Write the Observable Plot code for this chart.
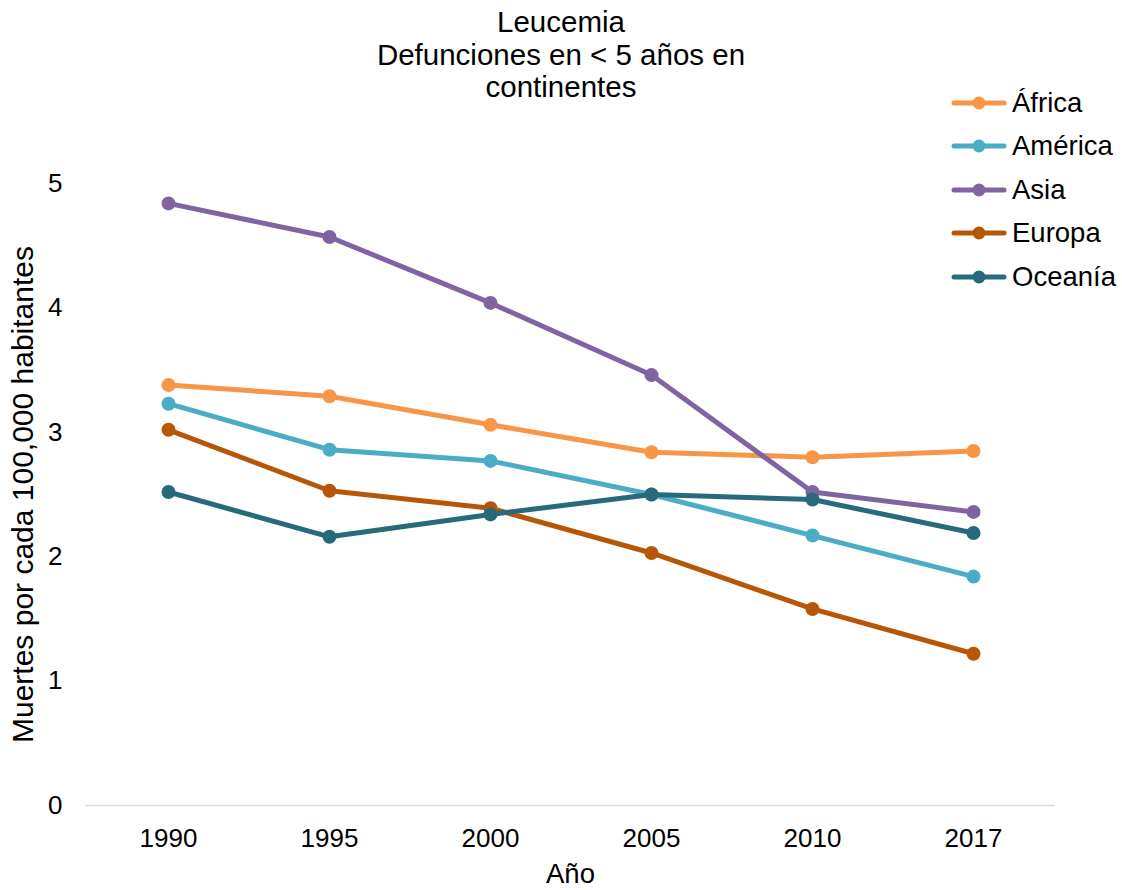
<!DOCTYPE html>
<html>
<head>
<meta charset="utf-8">
<script src="https://cdn.jsdelivr.net/npm/d3@7"></script>
<script src="https://cdn.jsdelivr.net/npm/@observablehq/plot@0.6"></script>
<style>
  body { margin: 0; background: #fff; font-family: "Liberation Sans", Arial, sans-serif; color: #000; }
  #wrap { position: relative; width: 1122px; height: 890px; }
  #title { position: absolute; left: 0; top: 6px; width: 1122px; text-align: center; font-size: 29.5px; line-height: 32.5px; }
  #legend { position: absolute; left: 951px; top: 81px; }
  .item { display: flex; align-items: center; height: 43.5px; font-size: 27.5px; }
  .item svg { margin-right: 5px; }
</style>
</head>
<body>
<div id="wrap">
  <div id="chart"></div>
  <div id="title">Leucemia<br>Defunciones en &lt; 5 años en<br>continentes</div>
  <div id="legend"></div>
</div>
<script>
// Years on the x axis
const years = ["1990", "1995", "2000", "2005", "2010", "2017"];
// Series (continents) and their colours
const continents = ["África", "América", "Asia", "Europa", "Oceanía"];
const colors = ["#F79646", "#4BACC6", "#8064A2", "#B65708", "#276A7C"];
// Deaths per 100,000 inhabitants, children under 5
const africa  = [3.38, 3.29, 3.06, 2.84, 2.80, 2.85];
const america = [3.23, 2.86, 2.77, 2.50, 2.17, 1.84];
const asia    = [4.84, 4.57, 4.04, 3.46, 2.52, 2.36];
const europa  = [3.02, 2.53, 2.39, 2.03, 1.58, 1.22];
const oceania = [2.52, 2.16, 2.34, 2.50, 2.46, 2.19];
const yTicks = [0, 1, 2, 3, 4, 5];
const yLabel = "Muertes por cada 100,000 habitantes";
const xLabel = "Año";

const series = [africa, america, asia, europa, oceania];
const rows = continents.flatMap((c, i) =>
  years.map((year, j) => ({ continent: c, year, value: series[i][j] }))
);

// One line + markers per series, drawn in series order
const seriesMarks = continents.flatMap(c => {
  const d = rows.filter(r => r.continent === c);
  return [
    Plot.line(d, { x: "year", y: "value", stroke: "continent", strokeWidth: 5, strokeLinejoin: "round", strokeLinecap: "round" }),
    Plot.dot(d, { x: "year", y: "value", fill: "continent", r: 7 })
  ];
});

const chart = Plot.plot({
  width: 1122,
  height: 890,
  marginLeft: 85,
  marginRight: 67,
  marginTop: 183,
  marginBottom: 85,
  style: { fontFamily: "'Liberation Sans', Arial, sans-serif", fontSize: "26px", color: "#000", background: "transparent" },
  x: { type: "point", domain: years, padding: 0.5, label: null },
  y: { domain: [0, 5], label: null },
  color: { domain: continents, range: colors },
  marks: [
    Plot.ruleY([0], { stroke: "#d9d9d9", strokeWidth: 1.5 }),
    Plot.axisX({ tickSize: 0, tickPadding: 23, label: null }),
    Plot.axisY({ ticks: yTicks, tickSize: 0, tickPadding: 23, label: null, tickFormat: d => String(d) }),
    ...seriesMarks,
    Plot.text([yLabel], { text: d => d, frameAnchor: "left", textAnchor: "middle", dx: -62, rotate: -90, fontSize: 30 }),
    Plot.text([xLabel], { text: d => d, frameAnchor: "bottom", dy: 77, fontSize: 27.5 })
  ]
});
document.getElementById("chart").appendChild(chart);

// Legend: line-with-marker swatch and label per series
const legend = document.getElementById("legend");
continents.forEach((c, i) => {
  const item = document.createElement("div");
  item.className = "item";
  item.innerHTML =
    `<svg width="56" height="16"><line x1="3" y1="8" x2="53" y2="8" stroke="${colors[i]}" stroke-width="5" stroke-linecap="round"/>` +
    `<circle cx="28" cy="8" r="6.5" fill="${colors[i]}"/></svg><span>${c}</span>`;
  legend.appendChild(item);
});
</script>
</body>
</html>
